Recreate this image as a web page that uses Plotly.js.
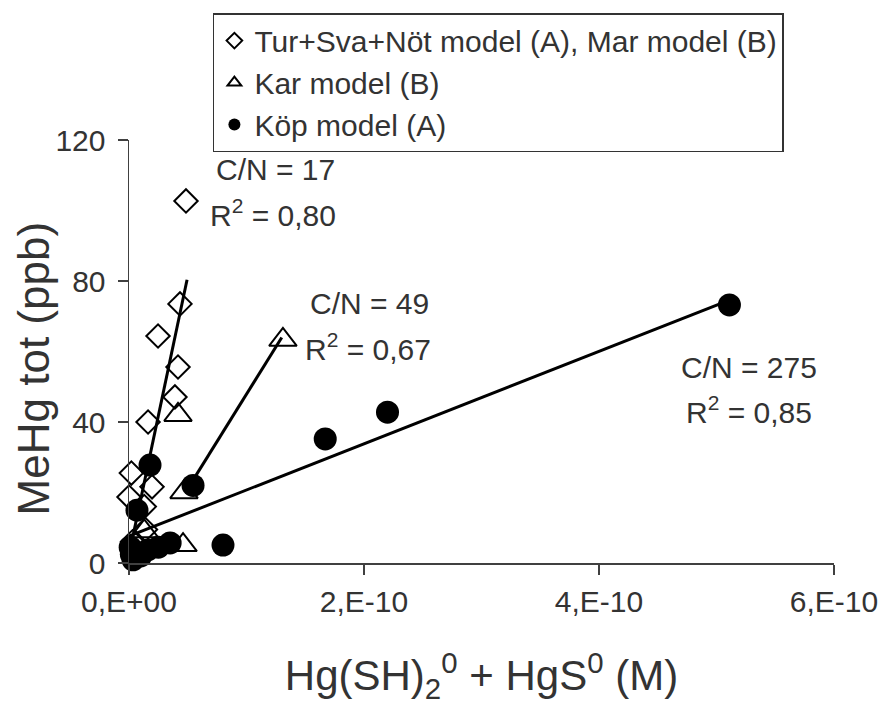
<!DOCTYPE html>
<html>
<head>
<meta charset="utf-8">
<script src="https://cdn.plot.ly/plotly-3.0.1.min.js"></script>
<style>html,body{margin:0;padding:0;background:#fff;}#chart{width:894px;height:707px;}</style>
</head>
<body>
<div id="chart"></div>
<script>
// Tur+Sva+Nöt model (A), Mar model (B)
const diamondX = [4.85e-11, 4.34e-11, 2.47e-11, 4.17e-11, 3.91e-11, 1.62e-11, 0.2e-11, 1.96e-11, 0, 1.3e-11, 1.4e-11, 0.3e-11];
const diamondY = [102.7, 73.5, 64.4, 55.6, 47.1, 40.0, 25.5, 21.6, 18.7, 16.0, 9.5, 6.0];
// Kar model (B)
const triangleX = [1.31e-10, 4.17e-11, 4.68e-11, 4.6e-11, 1.3e-11];
const triangleY = [63.3, 42.0, 20.1, 5.1, 9.0];
// Köp model (A)
const circleX = [5.11e-10, 2.20e-10, 1.67e-10, 8.0e-11, 5.45e-11, 1.79e-11, 0.68e-11, 0.1e-11, 0.34e-11, 1.6e-11, 2.5e-11, 3.5e-11, 0.2e-11, 1.0e-11];
const circleY = [73.2, 42.8, 35.2, 5.1, 22.0, 27.8, 15.0, 4.5, 0.9, 3.7, 4.5, 5.7, 2.5, 2.0];
// linear trend lines: slope, intercept, x start, x end
const fitNames = ["C/N = 17", "C/N = 49", "C/N = 275"];
const fitSlope = [1.58e12, 5.36e11, 1.311e11];
const fitIntercept = [2.3, -5.7, 7.6];
const fitXStart = [0, 5.0e-11, 0];
const fitXEnd = [4.94e-11, 1.30e-10, 5.11e-10];
const fitR2 = ["0,80", "0,67", "0,85"];
// axis ticks
const xTickVals = [0, 2e-10, 4e-10, 6e-10];
const xTickText = ["0,E+00", "2,E-10", "4,E-10", "6,E-10"];
const yTickVals = [0, 40, 80, 120];

const FONT = "Liberation Sans, Arial, sans-serif";
const TXT = "#333333";

const traces = [
  {x: diamondX, y: diamondY, type: "scatter", mode: "markers", name: "Tur+Sva+Nöt model (A), Mar model (B)",
   cliponaxis: false,
   marker: {symbol: "diamond-open", size: 18, color: "#000", line: {width: 2, color: "#000"}}},
  {x: triangleX, y: triangleY, type: "scatter", mode: "markers", name: "Kar model (B)",
   cliponaxis: false,
   marker: {symbol: "triangle-up-open", size: 24, color: "#000", line: {width: 2, color: "#000"}}},
  {x: circleX, y: circleY, type: "scatter", mode: "markers", name: "Köp model (A)",
   cliponaxis: false,
   marker: {symbol: "circle", size: 23, color: "#000"}}
];
for (let i = 0; i < fitSlope.length; i++) {
  const xs = [fitXStart[i], fitXEnd[i]];
  traces.push({x: xs, y: xs.map(v => fitIntercept[i] + fitSlope[i] * v), type: "scatter", mode: "lines",
    showlegend: false, cliponaxis: false, hoverinfo: "skip", line: {color: "#000", width: 3}});
}

const annPos = [
  {x: 1.245e-10, y: 111.5, rx: 1.225e-10, ry: 99.3},
  {x: 2.05e-10, y: 73.6, rx: 2.03e-10, ry: 61.2},
  {x: 5.28e-10, y: 55.6, rx: 5.28e-10, ry: 43.4}
];
const annotations = [];
for (let i = 0; i < fitNames.length; i++) {
  annotations.push({x: annPos[i].x, y: annPos[i].y, xref: "x", yref: "y", text: fitNames[i], showarrow: false,
    font: {family: FONT, size: 30, color: TXT}});
  annotations.push({x: annPos[i].rx, y: annPos[i].ry, xref: "x", yref: "y", text: "R<sup>2</sup> = " + fitR2[i], showarrow: false,
    font: {family: FONT, size: 30, color: TXT}});
}
// y axis title placed as an annotation so it sits where the reference has it
annotations.push({x: -0.136, y: 0.458, xref: "paper", yref: "paper", text: "MeHg tot (ppb)", textangle: -90,
  showarrow: false, xanchor: "center", yanchor: "middle", font: {family: FONT, size: 44, color: TXT}});

const layout = {
  width: 894, height: 707,
  margin: {l: 129, r: 60, t: 140, b: 144},
  paper_bgcolor: "#fff", plot_bgcolor: "#fff",
  font: {family: FONT, color: TXT},
  showlegend: true,
  legend: {x: 0.119, y: 1.30, xanchor: "left", yanchor: "top", bordercolor: "#333", borderwidth: 1.5,
    font: {family: FONT, size: 30, color: TXT}, itemsizing: "constant", bgcolor: "#fff"},
  xaxis: {range: [0, 6e-10], tickvals: xTickVals, ticktext: xTickText, showgrid: false, zeroline: false,
    showline: true, linecolor: "#404040", linewidth: 1.5, ticks: "outside", ticklen: 10, tickwidth: 1.5, tickcolor: "#404040",
    tickfont: {family: FONT, size: 30, color: TXT}, ticklabelstandoff: 1,
    title: {text: "Hg(SH)<sub>2</sub><sup>0</sup> + HgS<sup>0</sup> (M)", font: {family: FONT, size: 42, color: TXT}, standoff: 44}},
  yaxis: {range: [0, 120], tickvals: yTickVals, showgrid: false, zeroline: false,
    showline: true, linecolor: "#404040", linewidth: 1.5, ticks: "outside", ticklen: 10, tickwidth: 1.5, tickcolor: "#404040",
    tickfont: {family: FONT, size: 30, color: TXT}, ticklabelstandoff: 6},
  annotations: annotations
};
Plotly.newPlot("chart", traces, layout, {displayModeBar: false, staticPlot: true});
</script>
</body>
</html>
